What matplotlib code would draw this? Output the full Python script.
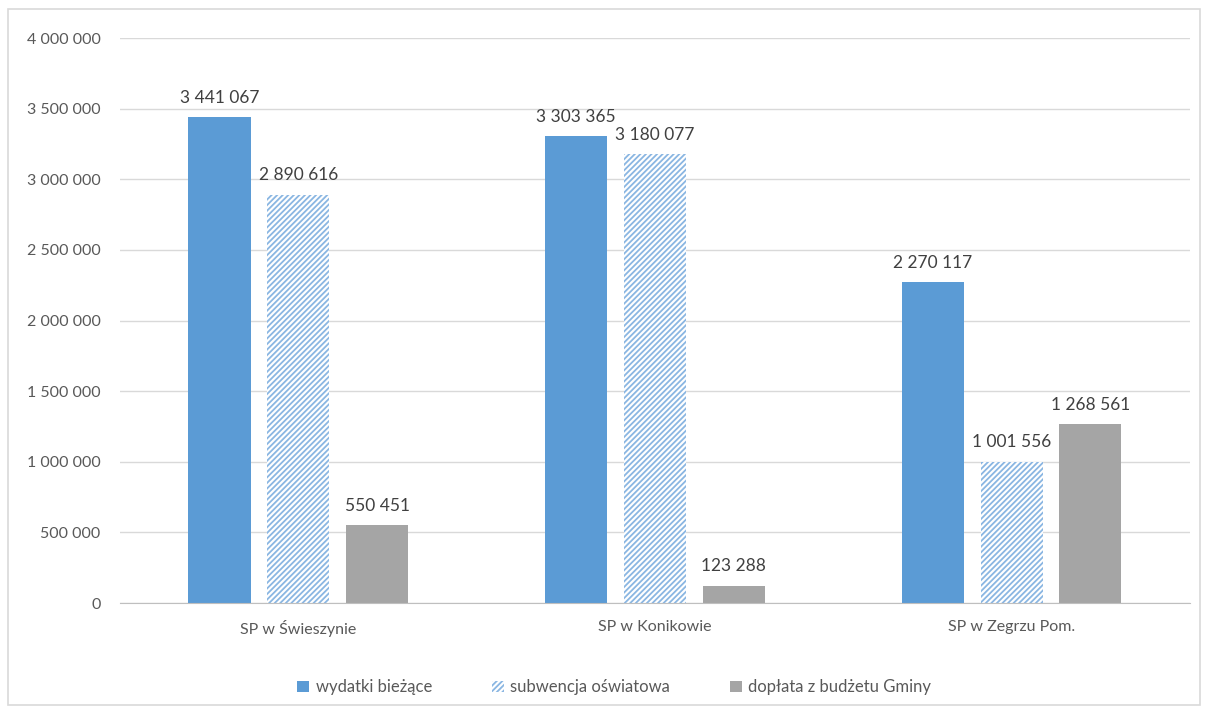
import numpy as np
import matplotlib.pyplot as plt
from matplotlib.patches import Rectangle

schools = ["SP w Świeszynie", "SP w Konikowie", "SP w Zegrzu Pom."]
wydatki = [3441067, 3303365, 2270117]
subwencja = [2890616, 3180077, 1001556]
doplata = [550451, 123288, 1268561]
series_names = ["wydatki bieżące", "subwencja oświatowa", "dopłata z budżetu Gminy"]
y_ticks = [0, 500000, 1000000, 1500000, 2000000, 2500000, 3000000, 3500000, 4000000]


def fmt(v):
    return f"{v:,}".replace(",", " ")


plt.rcParams["font.family"] = ["Lato", "DejaVu Sans"]
plt.rcParams["hatch.linewidth"] = 1.3

fig = plt.figure(figsize=(12.06, 7.08), dpi=100)
fig.patches.append(Rectangle((0.007, 0.004), 0.988, 0.983, transform=fig.transFigure,
                             fill=False, edgecolor="#D9D9D9", linewidth=1.2))
ax = fig.add_axes([0.0995, 0.1483, 0.8872, 0.798])

x = np.arange(len(schools))
w = 0.174
off = 0.221
text_color = "#595959"

b1 = ax.bar(x - off, wydatki, w, color="#5B9BD5", zorder=3, label=series_names[0])
b2 = ax.bar(x, subwencja, w, facecolor="white", edgecolor="#8AB6E2", hatch="//////",
            linewidth=0, zorder=3, label=series_names[1])
b3 = ax.bar(x + off, doplata, w, color="#A5A5A5", zorder=3, label=series_names[2])

for bars, vals in [(b1, wydatki), (b2, subwencja), (b3, doplata)]:
    for rect, v in zip(bars, vals):
        ax.text(rect.get_x() + rect.get_width() / 2, v + 80000, fmt(v),
                ha="center", va="bottom", fontsize=12.5, color="#404040", zorder=4)

ax.set_xlim(-0.5, 2.5)
ax.set_ylim(0, 4000000)
ax.set_yticks(y_ticks)
ax.set_yticklabels([fmt(v) for v in y_ticks], fontsize=11.5, color=text_color)
ax.set_xticks(x)
ax.set_xticklabels(schools, fontsize=11.5, color=text_color)
ax.tick_params(axis="both", length=0, pad=14)
ax.tick_params(axis="x", pad=12)
ax.grid(axis="y", color="#D9D9D9", linewidth=1, zorder=0)
for s in ["top", "right", "left"]:
    ax.spines[s].set_visible(False)
ax.spines["bottom"].set_color("#BFBFBF")
ax.spines["bottom"].set_zorder(5)

ax.legend(loc="lower center", bbox_to_anchor=(0.462, -0.19), ncol=3, frameon=False,
          fontsize=12, handlelength=0.7, handleheight=0.7, columnspacing=3.6,
          handletextpad=0.4, labelcolor=text_color)

fig.savefig("out.png", dpi=100)
